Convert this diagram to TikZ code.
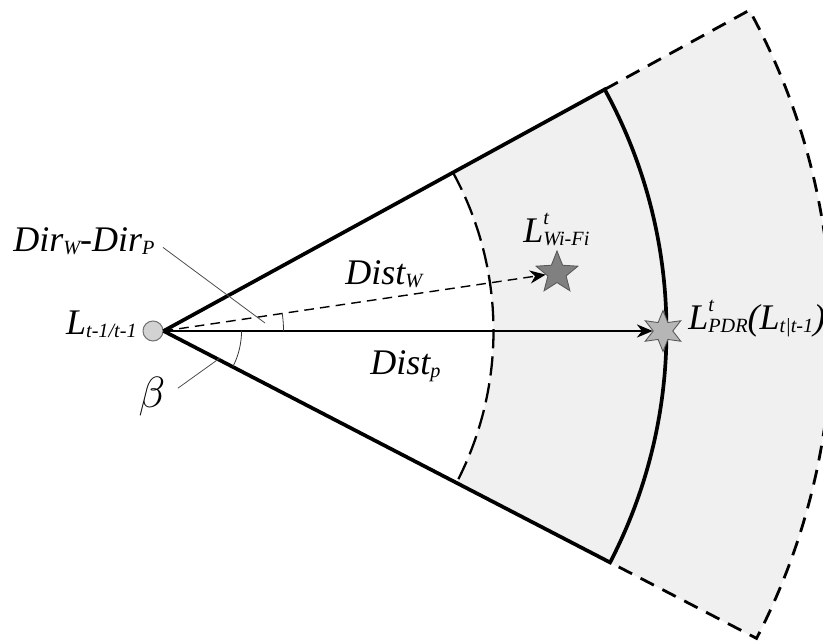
\documentclass[tikz,border=0pt]{standalone}
\usepackage{fontspec}
\setmainfont{Liberation Serif}
\usepackage{tikz}
\usetikzlibrary{arrows.meta,shapes.geometric,positioning}
\definecolor{sectorgray}{RGB}{240,240,240}
\definecolor{wifigray}{RGB}{128,128,128}
\definecolor{pdrgray}{RGB}{182,182,182}
\definecolor{origingray}{RGB}{210,210,210}
\tikzset{
  lbl/.style={inner sep=0pt,font=\fontsize{20.5}{24}\selectfont\itshape},
  originnode/.style={circle,fill=origingray,draw=black!55,line width=0.6pt,minimum size=0.4cm,inner sep=0pt},
  wifistar/.style={star,star points=5,star point ratio=2.3,minimum size=0.88cm,inner sep=0pt,fill=wifigray,draw=black!65,line width=0.5pt},
  pdrstar/.style={star,star points=6,star point ratio=2.1,minimum size=0.82cm,inner sep=0pt,fill=pdrgray,draw=black!65,line width=0.5pt},
  edgeline/.style={line width=2.1pt,black},
  outerdash/.style={line width=1.6pt,black,dash pattern=on 8.5pt off 5.5pt},
  rangedash/.style={line width=1.3pt,black,dash pattern=on 11pt off 4.5pt},
  pdrarr/.style={-{Stealth[length=9pt,width=7.5pt]},line width=0.9pt,black},
  wifiarr/.style={-{Stealth[length=9pt,width=7.5pt]},line width=0.8pt,black,dash pattern=on 5.5pt off 3.5pt},
  anglearc/.style={line width=0.45pt,black!80},
  leader/.style={line width=0.45pt,black!70}
}
\newcommand{\lo}[1]{\raisebox{-0.15ex}{\fontsize{11.5}{13}\selectfont #1}}
\newcommand{\hi}[1]{\rlap{\raisebox{10.5pt}{\fontsize{11.5}{13}\selectfont #1}}}

\begin{document}
\begin{tikzpicture}[x=0.02cm,y=0.02cm]
  \useasboundingbox (0,0) rectangle (823,641);
  \clip (0,0) rectangle (823,641);

  % apex of the sector
  \node[originnode] (org) at (153,310) {};
  \coordinate (O) at (org.east);

  % shaded band between the two ranges
  \fill[sectorgray] ([shift={(28.7:330)}]O) -- ([shift={(28.7:668)}]O)
    arc[start angle=28.7,end angle=-27.4,radius=668]
    -- ([shift={(-27.4:330)}]O)
    arc[start angle=-27.4,end angle=28.7,radius=330] -- cycle;

  \coordinate (topin) at ([shift={(28.7:503)}]O);
  \coordinate (botin) at ([shift={(-27.4:503)}]O);
  \coordinate (topout) at ([shift={(28.7:668)}]O);
  \coordinate (botout) at ([shift={(-27.4:668)}]O);

  \draw[outerdash] (topin) -- (topout) arc[start angle=28.7,end angle=-27.4,radius=668] -- (botin);
  \draw[rangedash] ([shift={(28.7:330)}]O) arc[start angle=28.7,end angle=-27.4,radius=330];
  \draw[edgeline] (O) -- (topin) arc[start angle=28.7,end angle=-27.4,radius=503] -- (O);

  % estimates
  \node[wifistar] (wstar) at (557,368) {};
  \node[pdrstar] (pstar) at (663,310) {};
  \draw[pdrarr] (O) -- (pstar);
  \draw[wifiarr] (O) -- (wstar);

  % angles
  \draw[anglearc] ([shift={(0:120)}]O) arc[start angle=0,end angle=8.4,radius=120];
  \draw[anglearc] ([shift={(0:78)}]O) arc[start angle=0,end angle=-27.4,radius=78];

  % labels
  \node[lbl,anchor=base east] (orglbl) at (137,306) {L\lo{t-1/t-1}};
  \node[lbl,anchor=base west] (dirlbl) at (13,389) {Dir\lo{W}-Dir\lo{P}};
  \node[lbl,anchor=base west] (distw) at (345,356) {Dist\lo{W}};
  \node[lbl,anchor=base west] (distp) at (370,266) {Dist\lo{p}};
  \node[lbl,anchor=base west] (wifilbl) at (523,398) {L\hi{t}\lo{Wi-Fi}};
  \node[lbl,anchor=base west] (pdrlbl) at (688,311) {L\hi{t}\lo{PDR}(L\lo{t|t-1})};
  \node[lbl,font=\fontsize{24}{26}\selectfont] (beta) at (152,244) {$\beta$};

  \coordinate (dirtip) at (265,318);
  \coordinate (betatip) at (220,283);
  \draw[leader,shorten <=0.2cm] (dirlbl.east) -- (dirtip);
  \draw[leader,shorten <=0.3cm] (beta.east) -- (betatip);
\end{tikzpicture}
\end{document}
